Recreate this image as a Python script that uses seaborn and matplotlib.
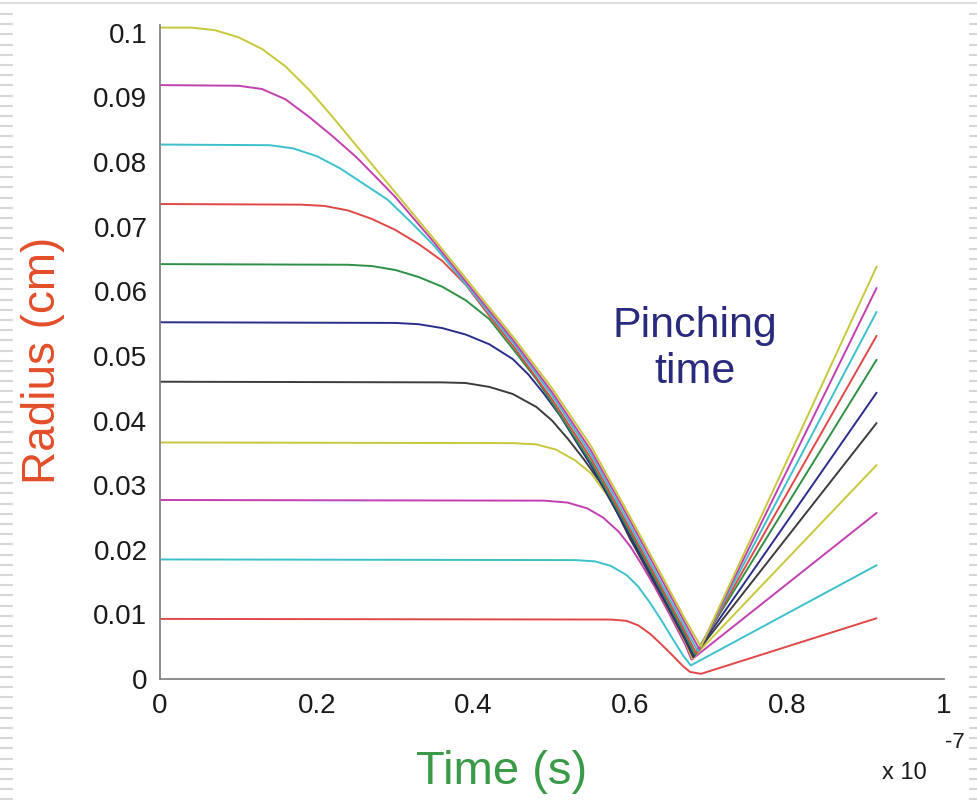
import matplotlib
matplotlib.use("Agg")
import matplotlib.pyplot as plt
import seaborn as sns
import pandas as pd
from matplotlib.lines import Line2D
from matplotlib.ticker import FixedLocator

# ---------------- data (time in units of 1e-7 s, radius in cm) ----------------
curve_names = ["r1", "r2", "r3", "r4", "r5", "r6", "r7", "r8", "r9", "r10", "r11"]
curve_colors = ["#e04848", "#3cc0cc", "#c23fb0", "#c8c83c", "#3c3c3c",
                "#2c2c8c", "#2f9045", "#e04848", "#3cc0cc", "#c23fb0", "#c8c83c"]

t_r1 = [0, 0.575, 0.595, 0.61, 0.625, 0.64, 0.655, 0.667, 0.676, 0.690, 0.914]
r_r1 = [0.0093, 0.0092, 0.0090, 0.0083, 0.0070, 0.0053, 0.0035, 0.0020, 0.0011, 0.0008, 0.0094]

t_r2 = [0, 0.53, 0.555, 0.575, 0.595, 0.61, 0.625, 0.64, 0.655, 0.668, 0.677, 0.914]
r_r2 = [0.0185, 0.0184, 0.0182, 0.0175, 0.0161, 0.0143, 0.0118, 0.0090, 0.0060, 0.0035, 0.0021, 0.0176]

t_r3 = [0, 0.49, 0.52, 0.545, 0.565, 0.585, 0.60, 0.615, 0.63, 0.65, 0.67, 0.678, 0.914]
r_r3 = [0.0277, 0.0276, 0.0273, 0.0264, 0.0250, 0.0228, 0.0205, 0.0176, 0.0145, 0.0100, 0.0053, 0.0030, 0.0257]

t_r4 = [0, 0.45, 0.48, 0.505, 0.53, 0.55, 0.57, 0.59, 0.61, 0.64, 0.67, 0.679, 0.914]
r_r4 = [0.0366, 0.0365, 0.0363, 0.0355, 0.0338, 0.0318, 0.0285, 0.0243, 0.0199, 0.0128, 0.0058, 0.0032, 0.0331]

t_r5 = [0, 0.36, 0.39, 0.42, 0.45, 0.48, 0.50, 0.52, 0.54, 0.57, 0.60, 0.64, 0.67, 0.680, 0.914]
r_r5 = [0.0460, 0.0459, 0.0458, 0.0452, 0.0441, 0.0421, 0.0400, 0.0372, 0.0341, 0.0290, 0.0216, 0.0128, 0.0060, 0.0034, 0.0396]

t_r6 = [0, 0.30, 0.33, 0.36, 0.39, 0.42, 0.45, 0.47, 0.49, 0.51, 0.55, 0.60, 0.64, 0.67, 0.681, 0.914]
r_r6 = [0.0552, 0.0551, 0.0549, 0.0543, 0.0533, 0.0518, 0.0495, 0.0471, 0.0441, 0.0408, 0.0330, 0.0221, 0.0131, 0.0063, 0.0036, 0.0443]

t_r7 = [0, 0.24, 0.27, 0.30, 0.33, 0.36, 0.39, 0.42, 0.45, 0.48, 0.50, 0.55, 0.60, 0.64, 0.67, 0.682, 0.914]
r_r7 = [0.0642, 0.0641, 0.0639, 0.0633, 0.0622, 0.0607, 0.0586, 0.0557, 0.0511, 0.0464, 0.0428, 0.0335, 0.0226, 0.0136, 0.0068, 0.0038, 0.0494]

t_r8 = [0, 0.18, 0.21, 0.24, 0.27, 0.30, 0.33, 0.36, 0.39, 0.42, 0.45, 0.50, 0.55, 0.60, 0.64, 0.67, 0.684, 0.914]
r_r8 = [0.0735, 0.0734, 0.0732, 0.0725, 0.0712, 0.0695, 0.0673, 0.0647, 0.0610, 0.0562, 0.0516, 0.0433, 0.0341, 0.0231, 0.0141, 0.0073, 0.0040, 0.0531]

t_r9 = [0, 0.14, 0.17, 0.20, 0.23, 0.26, 0.29, 0.32, 0.35, 0.40, 0.45, 0.50, 0.55, 0.60, 0.64, 0.67, 0.686, 0.914]
r_r9 = [0.0827, 0.0826, 0.0821, 0.0809, 0.0790, 0.0766, 0.0742, 0.0707, 0.0670, 0.0596, 0.0521, 0.0439, 0.0347, 0.0237, 0.0147, 0.0079, 0.0043, 0.0568]

t_r10 = [0, 0.10, 0.13, 0.16, 0.19, 0.22, 0.25, 0.28, 0.30, 0.35, 0.40, 0.45, 0.50, 0.55, 0.60, 0.64, 0.67, 0.688, 0.914]
r_r10 = [0.0919, 0.0918, 0.0913, 0.0897, 0.0870, 0.0840, 0.0808, 0.0771, 0.0746, 0.0675, 0.0600, 0.0525, 0.0444, 0.0353, 0.0244, 0.0154, 0.0086, 0.0046, 0.0605]

t_r11 = [0, 0.04, 0.07, 0.10, 0.13, 0.16, 0.19, 0.22, 0.25, 0.30, 0.35, 0.40, 0.45, 0.50, 0.55, 0.60, 0.64, 0.67, 0.690, 0.914]
r_r11 = [0.1008, 0.1008, 0.1004, 0.0993, 0.0975, 0.0948, 0.0912, 0.0870, 0.0826, 0.0753, 0.0680, 0.0605, 0.0530, 0.0450, 0.0360, 0.0250, 0.0160, 0.0092, 0.0050, 0.0638]

x_ticks = [0, 0.2, 0.4, 0.6, 0.8, 1.0]
x_tick_labels = ["0", "0.2", "0.4", "0.6", "0.8", "1"]
x_minor_ticks = [0.1, 0.3, 0.5, 0.7, 0.9]
y_ticks = [0, 0.01, 0.02, 0.03, 0.04, 0.05, 0.06, 0.07, 0.08, 0.09, 0.1]
y_tick_labels = ["0", "0.01", "0.02", "0.03", "0.04", "0.05", "0.06", "0.07", "0.08", "0.09", "0.1"]

all_t = [t_r1, t_r2, t_r3, t_r4, t_r5, t_r6, t_r7, t_r8, t_r9, t_r10, t_r11]
all_r = [r_r1, r_r2, r_r3, r_r4, r_r5, r_r6, r_r7, r_r8, r_r9, r_r10, r_r11]

rows = []
for name, ts, rs in zip(curve_names, all_t, all_r):
    for i, (tv, rv) in enumerate(zip(ts, rs)):
        rows.append({"curve": name, "t": tv, "r": rv, "idx": i})
df = pd.DataFrame(rows)

# ---------------- figure ----------------
sns.set_style("white")
plt.rcParams["font.family"] = ["Liberation Sans", "DejaVu Sans"]

fig = plt.figure(figsize=(9.78, 8.05), dpi=100)
fig.patch.set_facecolor("white")
ax = fig.add_axes([160 / 978, 1 - 679 / 805, 784 / 978, (679 - 25) / 805])

sns.lineplot(data=df, x="t", y="r", hue="curve", hue_order=curve_names,
             palette=curve_colors, sort=False, estimator=None, legend=False,
             linewidth=1.4, ax=ax)

ax.set_xlim(0, 1)
ax.set_ylim(0, 0.1012)
ax.xaxis.set_major_locator(FixedLocator(x_ticks))
ax.set_xticklabels(x_tick_labels)
ax.xaxis.set_minor_locator(FixedLocator(x_minor_ticks))
ax.yaxis.set_major_locator(FixedLocator(y_ticks))
ax.set_yticklabels(y_tick_labels)

for s in ["top", "right"]:
    ax.spines[s].set_visible(False)
for s in ["left", "bottom"]:
    ax.spines[s].set_color("#858585")
    ax.spines[s].set_linewidth(1.3)

ax.tick_params(axis="both", which="both", direction="in", length=6, width=1.1,
               color="#858585", labelcolor="#1a1a1a", labelsize=20)
ax.tick_params(axis="y", pad=9)
ax.tick_params(axis="x", pad=10)

ax.set_xlabel("Time (s)", color="#3a9a48", fontsize=34)
ax.set_ylabel("Radius (cm)", color="#e34e2a", fontsize=33)
ax.xaxis.set_label_coords((502 - 160) / 784, -(772 - 679) / 654)
ax.yaxis.set_label_coords((43 - 160) / 784, (679 - 360) / 654)
ax.xaxis.label.set_va("center")
ax.yaxis.label.set_va("center")

fig.text(695 / 978, 1 - 349 / 805, "Pinching\ntime", color="#2a2a7c",
         fontsize=31, ha="center", va="center", linespacing=1.2)

fig.text(882 / 978, 1 - 773 / 805, "x 10", fontsize=17, color="#1a1a1a",
         ha="left", va="center")
fig.text(945 / 978, 1 - 742 / 805, "-7", fontsize=16, color="#1a1a1a",
         ha="left", va="center")

# slide background decoration (striped margins, top rule)
fig.add_artist(Line2D([0, 1], [1 - 3 / 805, 1 - 3 / 805], transform=fig.transFigure,
                      color="#dddddd", linewidth=1.5))
y = 14
while y < 805:
    fig.add_artist(Line2D([0, 12 / 978], [1 - y / 805, 1 - y / 805],
                          transform=fig.transFigure, color="#d6d6d6", linewidth=1.5))
    fig.add_artist(Line2D([970 / 978, 1], [1 - y / 805, 1 - y / 805],
                          transform=fig.transFigure, color="#d6d6d6", linewidth=1.5))
    y += 10.2

fig.savefig("out.png", dpi=100, facecolor="white")
